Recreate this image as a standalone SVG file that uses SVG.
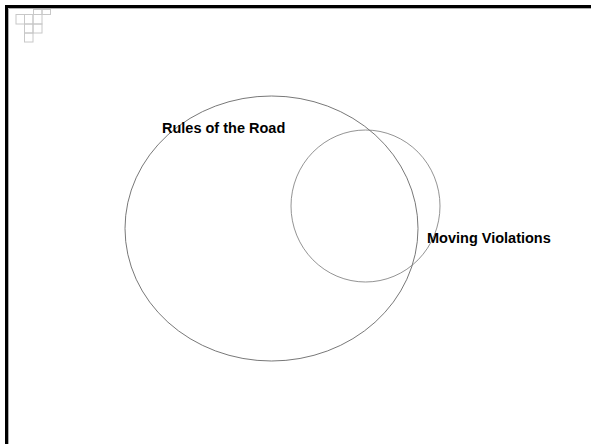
<svg xmlns="http://www.w3.org/2000/svg" width="591" height="444" viewBox="0 0 591 444">
<style>
.grid{fill:none;stroke:#c8c8c8;stroke-width:1}
.venn{fill:none;stroke-width:0.8}
.lbl{font-family:"Liberation Sans",Arial,sans-serif;font-weight:bold;font-size:14.5px;fill:#000}
</style>
<rect width="591" height="444" fill="#fff"/>
<g id="frame">
<line x1="6.5" y1="6.5" x2="591" y2="6.5" stroke="#000" stroke-width="3"/>
<line x1="6.5" y1="5" x2="6.5" y2="444" stroke="#000" stroke-width="3"/>
<line x1="8.5" y1="8.5" x2="591" y2="8.5" stroke="#999" stroke-width="0.8"/>
<line x1="8.5" y1="8.5" x2="8.5" y2="444" stroke="#999" stroke-width="0.8"/>
</g>
<g id="corner-grid" class="grid">
<rect x="33.5" y="9.5" width="8.5" height="5"/>
<rect x="42" y="9.5" width="8.5" height="5"/>
<rect x="16" y="14.5" width="8.5" height="9.5"/>
<rect x="24.5" y="14.5" width="8.5" height="9.5"/>
<rect x="33" y="14.5" width="9" height="9.5"/>
<rect x="24.5" y="24" width="8.5" height="9"/>
<rect x="33" y="24" width="9" height="9"/>
<rect x="24.5" y="33" width="8.5" height="9"/>
</g>
<g id="rules-of-the-road">
<ellipse class="venn" cx="271.5" cy="228.5" rx="146.5" ry="132.5" stroke="#555"/>
<text class="lbl" x="162" y="133">Rules of the Road</text>
</g>
<g id="moving-violations">
<ellipse class="venn" cx="365.5" cy="206" rx="74.5" ry="76" stroke="#777"/>
<text class="lbl" x="427" y="243">Moving Violations</text>
</g>
<g id="connectors"></g>
</svg>
